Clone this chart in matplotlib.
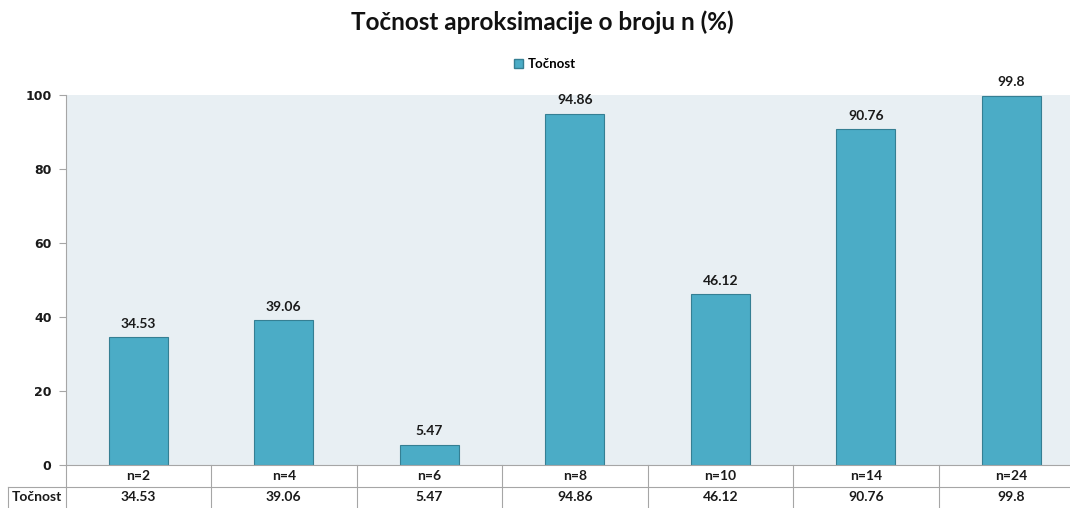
import matplotlib
matplotlib.use('Agg')
import matplotlib.pyplot as plt
from matplotlib.lines import Line2D
from matplotlib.patches import Patch

# accuracy of the approximation per n
categories = ['n=2', 'n=4', 'n=6', 'n=8', 'n=10', 'n=14', 'n=24']
accuracy = [34.53, 39.06, 5.47, 94.86, 46.12, 90.76, 99.8]
series_name = 'Točnost'
title = 'Točnost aproksimacije o broju n (%)'
yticks = [0, 20, 40, 60, 80, 100]

BAR = '#4BACC6'
BAR_EDGE = '#357F93'
PLOT_BG = '#E8EFF3'
GRID = '#A6A6A6'
TXT = '#1a1a1a'

plt.rcParams['font.family'] = ['Lato', 'DejaVu Sans']

fig = plt.figure(figsize=(10.7, 5.08), dpi=100)
W, H = 1070, 508
# plot area runs slightly past the right edge of the canvas
left, right, top, bottom = 65.5, 1084, 95, 465
ax = fig.add_axes([left / W, (H - bottom) / H, (right - left) / W, (bottom - top) / H])
ax.set_facecolor(PLOT_BG)

x = range(len(categories))
ax.bar(x, accuracy, width=0.405, color=BAR, edgecolor=BAR_EDGE, linewidth=0.8, zorder=2)
for xi, v in zip(x, accuracy):
    ax.annotate(f'{v:g}', (xi, v), xytext=(0, 5.5), textcoords='offset points',
                ha='center', va='bottom', fontsize=10, fontweight='bold', color=TXT)

ax.set_xlim(-0.5, len(categories) - 0.5)
ax.set_ylim(0, 100)
ax.set_yticks(yticks)
ax.set_yticklabels([str(t) for t in yticks], fontsize=9, fontweight='bold',
                   fontfamily='DejaVu Sans', color=TXT)
ax.tick_params(axis='y', length=5, width=0.8, color=GRID, pad=5)
ax.set_xticks([])
for s in ['top', 'right', 'bottom']:
    ax.spines[s].set_visible(False)
ax.spines['left'].set_color(GRID)
ax.spines['left'].set_linewidth(0.8)

# data table under the axis
tr = ax.get_xaxis_transform()
ph = bottom - top
row1 = -11 / ph
row2 = -32 / ph
sep = -22 / ph
tbot = -44 / ph
lc = dict(color=GRID, lw=0.8, clip_on=False, transform=tr)
ax.add_line(Line2D([-0.5, len(categories) - 0.5], [0, 0], **lc))
ax.add_line(Line2D([-0.5, len(categories) - 0.5], [sep, sep], **lc))
for i in range(len(categories) + 1):
    ax.add_line(Line2D([i - 0.5, i - 0.5], [0, tbot], **lc))
for xi, (c, v) in enumerate(zip(categories, accuracy)):
    ax.text(xi, row1, c, transform=tr, ha='center', va='center',
            fontsize=10, fontweight='bold', color=TXT)
    ax.text(xi, row2, f'{v:g}', transform=tr, ha='center', va='center',
            fontsize=10, fontweight='bold', color=TXT)

# row header cell
fx0 = 8 / W
fy_sep = (H - 487) / H
fig.add_artist(Line2D([fx0, left / W], [fy_sep, fy_sep], color=GRID, lw=0.8))
fig.add_artist(Line2D([fx0, fx0], [fy_sep, 0], color=GRID, lw=0.8))
fig.text((8 + left) / 2 / W, (H - 497) / H, series_name, ha='center', va='center',
         fontsize=10, fontweight='bold', color=TXT)

fig.text(542 / W, (H - 22) / H, title, ha='center', va='center',
         fontsize=17.5, fontweight='bold', color='#111111')

leg = fig.legend(handles=[Patch(facecolor=BAR, edgecolor=BAR_EDGE, label=series_name)],
                 loc='center', bbox_to_anchor=(545 / W, (H - 64) / H), frameon=False,
                 prop={'size': 9.5, 'weight': 'bold'}, handlelength=0.7, handleheight=0.7,
                 handletextpad=0.4)

fig.savefig('out.png', dpi=100)
